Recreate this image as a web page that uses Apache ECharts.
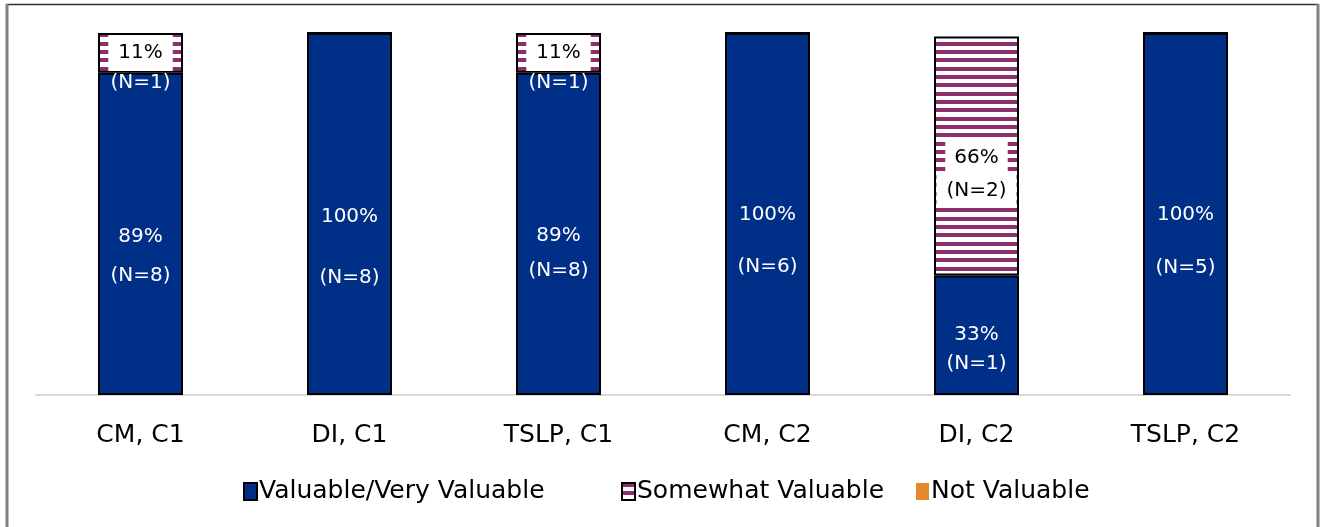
<!DOCTYPE html>
<html>
<head>
<meta charset="utf-8">
<script src="https://cdn.jsdelivr.net/npm/echarts@6/dist/echarts.min.js"></script>
<style>
html,body{margin:0;padding:0;background:#fff;}
#chart{width:1321px;height:527px;}
</style>
</head>
<body>
<div id="chart"></div>
<script>
const categories = ['CM, C1', 'DI, C1', 'TSLP, C1', 'CM, C2', 'DI, C2', 'TSLP, C2'];
const valuable = [89, 100, 89, 100, 33, 100];
const somewhat = [11, 0, 11, 0, 66, 0];
const notValuable = [0, 0, 0, 0, 0, 0];
const nValuable = ['8', '8', '8', '6', '1', '5'];
const nSomewhat = ['1', '', '1', '', '2', ''];
const seriesNames = ['Valuable/Very Valuable', 'Somewhat Valuable', 'Not Valuable'];

// label layout tweaks (style only)
const valLineGap = [39, 61, 35, 52, 29, 53];
const valShift = [22, 33, 19, 27, 14, 27];
const swStyle = ['top', null, 'top', null, 'mid', null];
const legendLeft = [238, 616, 911];

const FONT = 'DejaVu Sans';
const BLUE = '#002F87';
const PURPLE = '#8C2E6B';
const ORANGE = '#E48A2E';
const LFS = 20;

function stripes() {
  const c = document.createElement('canvas');
  c.width = 4; c.height = 25;
  const g = c.getContext('2d');
  g.fillStyle = '#ffffff'; g.fillRect(0, 0, 4, 25);
  g.fillStyle = PURPLE;
  g.fillRect(0, 0, 4, 4); g.fillRect(0, 8, 4, 4); g.fillRect(0, 17, 4, 4);
  return c;
}
const pattern = { image: stripes(), repeat: 'repeat' };

const valData = valuable.map((v, i) => ({
  value: v,
  label: {
    show: v > 0,
    formatter: v + '%\n(N=' + nValuable[i] + ')',
    lineHeight: valLineGap[i],
    offset: [0, valShift[i]]
  }
}));

const swData = somewhat.map((v, i) => {
  if (v <= 0) return { value: v, label: { show: false } };
  if (swStyle[i] === 'top') {
    return {
      value: v,
      label: {
        show: true,
        formatter: '{a|' + v + '%}\n{b|(N=' + nSomewhat[i] + ')}',
        offset: [0, 12],
        rich: {
          a: { color: '#000', backgroundColor: '#fff', fontSize: LFS, fontFamily: FONT, height: 36, lineHeight: 36, padding: [0, 10] },
          b: { color: '#fff', fontSize: LFS, fontFamily: FONT, height: 24, lineHeight: 24 }
        }
      }
    };
  }
  return {
    value: v,
    label: {
      show: true,
      formatter: '{a|' + v + '%}\n{b|(N=' + nSomewhat[i] + ')}',
      offset: [0, 18],
      rich: {
        a: { color: '#000', backgroundColor: '#fff', fontSize: LFS, fontFamily: FONT, height: 34, lineHeight: 34, padding: [0, 9] },
        b: { color: '#000', backgroundColor: '#fff', fontSize: LFS, fontFamily: FONT, height: 32, lineHeight: 32, padding: [0, 10] }
      }
    }
  };
});

const legends = seriesNames.map((n, i) => ({
  data: [n],
  top: 474,
  left: legendLeft[i],
  itemWidth: 13,
  itemHeight: 17,
  icon: 'rect',
  textStyle: { color: '#000', fontSize: 25, fontFamily: FONT, padding: [0, 0, 0, -3] }
}));

const chart = echarts.init(document.getElementById('chart'), null, { renderer: 'canvas' });
chart.setOption({
  animation: false,
  backgroundColor: '#ffffff',
  textStyle: { fontFamily: FONT },
  grid: { left: 36, right: 31, top: 33, bottom: 132 },
  xAxis: {
    type: 'category',
    data: categories,
    axisLine: { lineStyle: { color: '#D9D9D9', width: 2 } },
    axisTick: { show: false },
    axisLabel: { color: '#000', fontSize: 25, fontFamily: FONT, margin: 28 }
  },
  yAxis: { type: 'value', min: 0, max: 100, show: false, splitLine: { show: false } },
  legend: legends,
  series: [
    {
      name: seriesNames[0], type: 'bar', stack: 't', barWidth: 85,
      itemStyle: { color: BLUE, borderColor: '#000', borderWidth: 2 },
      label: { position: 'inside', color: '#fff', fontSize: LFS, fontFamily: FONT },
      data: valData
    },
    {
      name: seriesNames[1], type: 'bar', stack: 't', barWidth: 85,
      itemStyle: { color: pattern, borderColor: '#000', borderWidth: 2 },
      label: { position: 'inside', color: '#000', fontSize: LFS, fontFamily: FONT },
      data: swData
    },
    {
      name: seriesNames[2], type: 'bar', stack: 't', barWidth: 85,
      itemStyle: { color: ORANGE, borderWidth: 0 },
      label: { show: false },
      data: notValuable
    }
  ],
  graphic: [
    { type: 'line', shape: { x1: 6, y1: 4.5, x2: 1319, y2: 4.5 }, style: { stroke: '#333', lineWidth: 1.5 }, z: 100 },
    { type: 'line', shape: { x1: 7, y1: 4, x2: 7, y2: 527 }, style: { stroke: '#808080', lineWidth: 3 }, z: 100 },
    { type: 'line', shape: { x1: 1318, y1: 4, x2: 1318, y2: 527 }, style: { stroke: '#808080', lineWidth: 3 }, z: 100 }
  ]
});
</script>
</body>
</html>
